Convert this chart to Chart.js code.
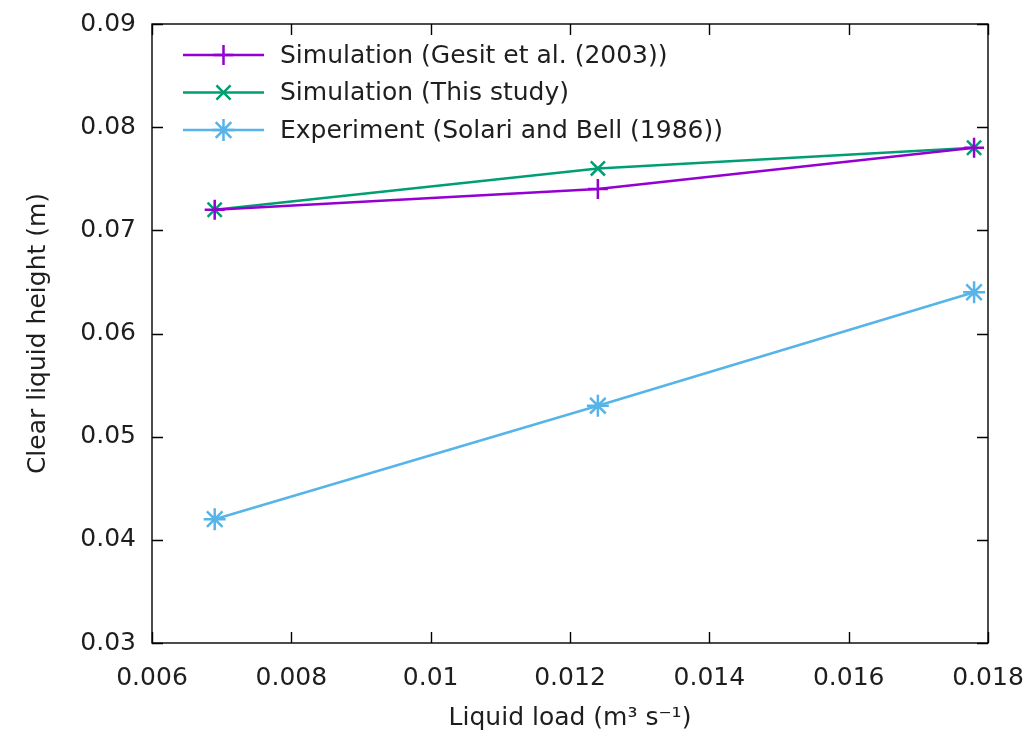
<!DOCTYPE html>
<html>
<head>
<meta charset="utf-8">
<title>Clear liquid height vs liquid load</title>
<script src="https://cdn.jsdelivr.net/npm/chart.js@4.4.1/dist/chart.umd.min.js"></script>
<style>
  html, body { margin: 0; padding: 0; background: #ffffff; }
  #wrap { width: 1033px; height: 739px; position: relative; }
</style>
</head>
<body>
<div id="wrap"><canvas id="chart" width="1033" height="739"></canvas></div>
<script>
// Liquid load (m^3 s^-1)
const liquidLoad = [0.0069, 0.0124, 0.0178];
// Clear liquid height (m)
const gesit2003 = [0.072, 0.074, 0.078];
const thisStudy = [0.072, 0.076, 0.078];
const solariBell1986 = [0.042, 0.053, 0.064];

const xTicks = [0.006, 0.008, 0.01, 0.012, 0.014, 0.016, 0.018];
const yTicks = [0.03, 0.04, 0.05, 0.06, 0.07, 0.08, 0.09];

const seriesNames = [
  'Simulation (Gesit et al. (2003))',
  'Simulation (This study)',
  'Experiment (Solari and Bell (1986))'
];

const FONT = 'DejaVu Sans';
const AXIS_SIZE = 25;
const KEY_SIZE = 25;
const TEXT = '#1e1e1e';

function toPoints(ys) {
  return liquidLoad.map((x, i) => ({ x: x, y: ys[i] }));
}

// Frame with inward ticks on all four sides
const frameTicks = {
  id: 'frameTicks',
  afterDatasetsDraw(chart) {
    const { ctx, chartArea: a, scales } = chart;
    const len = 11;
    ctx.save();
    ctx.strokeStyle = '#000';
    ctx.lineWidth = 1.4;
    ctx.strokeRect(a.left, a.top, a.right - a.left, a.bottom - a.top);
    ctx.beginPath();
    xTicks.forEach(v => {
      const px = Math.round(scales.x.getPixelForValue(v)) + 0.5;
      ctx.moveTo(px, a.bottom); ctx.lineTo(px, a.bottom - len);
      ctx.moveTo(px, a.top); ctx.lineTo(px, a.top + len);
    });
    yTicks.forEach(v => {
      const py = Math.round(scales.y.getPixelForValue(v)) + 0.5;
      ctx.moveTo(a.left, py); ctx.lineTo(a.left + len, py);
      ctx.moveTo(a.right, py); ctx.lineTo(a.right - len, py);
    });
    ctx.stroke();
    ctx.restore();
  }
};

// Key in the upper-left corner: line sample with marker, then the label
const insideKey = {
  id: 'insideKey',
  afterDatasetsDraw(chart) {
    const { ctx, chartArea: a } = chart;
    const x0 = a.left + 31, x1 = a.left + 112, tx = a.left + 128;
    const rowTop = a.top + 31, rowGap = 37.5;
    ctx.save();
    ctx.font = KEY_SIZE + 'px "' + FONT + '"';
    ctx.textBaseline = 'middle';
    ctx.textAlign = 'left';
    chart.data.datasets.forEach((ds, i) => {
      const y = rowTop + i * rowGap;
      ctx.strokeStyle = ds.borderColor;
      ctx.lineWidth = ds.borderWidth;
      ctx.beginPath();
      ctx.moveTo(x0, y); ctx.lineTo(x1, y);
      ctx.stroke();
      Chart.helpers.drawPoint(ctx, {
        pointStyle: ds.pointStyle,
        radius: ds.pointRadius,
        rotation: 0,
        borderWidth: ds.pointBorderWidth
      }, (x0 + x1) / 2, y);
      ctx.fillStyle = TEXT;
      ctx.fillText(ds.label, tx, y + 1);
    });
    ctx.restore();
  }
};

function series(label, data, color, style, r) {
  return {
    label: label,
    data: toPoints(data),
    borderColor: color,
    backgroundColor: color,
    borderWidth: 2.5,
    pointStyle: style,
    pointRadius: r,
    pointHoverRadius: r,
    pointBorderColor: color,
    pointBackgroundColor: color,
    pointBorderWidth: 2.5,
    tension: 0,
    fill: false
  };
}

new Chart(document.getElementById('chart'), {
  type: 'line',
  data: {
    datasets: [
      series(seriesNames[0], gesit2003, '#9400d3', 'cross', 10),
      series(seriesNames[1], thisStudy, '#009e73', 'crossRot', 10),
      series(seriesNames[2], solariBell1986, '#56b4e9', 'star', 11)
    ]
  },
  options: {
    responsive: false,
    animation: false,
    devicePixelRatio: 1,
    layout: { padding: { left: 0, right: 45, top: 24, bottom: 0 } },
    plugins: {
      legend: { display: false },
      tooltip: { enabled: false }
    },
    scales: {
      x: {
        type: 'linear',
        min: 0.006,
        max: 0.018,
        afterBuildTicks: s => { s.ticks = xTicks.map(v => ({ value: v })); },
        afterFit: s => { s.height = 96; s.paddingLeft = 0; s.paddingRight = 0; },
        border: { display: false },
        grid: { display: false, drawTicks: false },
        ticks: {
          color: TEXT,
          font: { family: FONT, size: AXIS_SIZE },
          padding: 20,
          maxRotation: 0,
          callback: v => String(+v.toFixed(3))
        },
        title: {
          display: true,
          text: 'Liquid load (m³ s⁻¹)',
          color: TEXT,
          font: { family: FONT, size: AXIS_SIZE },
          padding: { top: 8, bottom: 6 }
        }
      },
      y: {
        type: 'linear',
        min: 0.03,
        max: 0.09,
        afterBuildTicks: s => { s.ticks = yTicks.map(v => ({ value: v })); },
        afterFit: s => { s.width = 152; s.paddingTop = 0; s.paddingBottom = 0; },
        border: { display: false },
        grid: { display: false, drawTicks: false },
        ticks: {
          color: TEXT,
          font: { family: FONT, size: AXIS_SIZE },
          padding: 16,
          callback: v => String(+v.toFixed(2))
        },
        title: {
          display: true,
          text: 'Clear liquid height (m)',
          color: TEXT,
          font: { family: FONT, size: AXIS_SIZE },
          padding: { top: 23, bottom: 10 }
        }
      }
    }
  },
  plugins: [frameTicks, insideKey]
});
</script>
</body>
</html>
